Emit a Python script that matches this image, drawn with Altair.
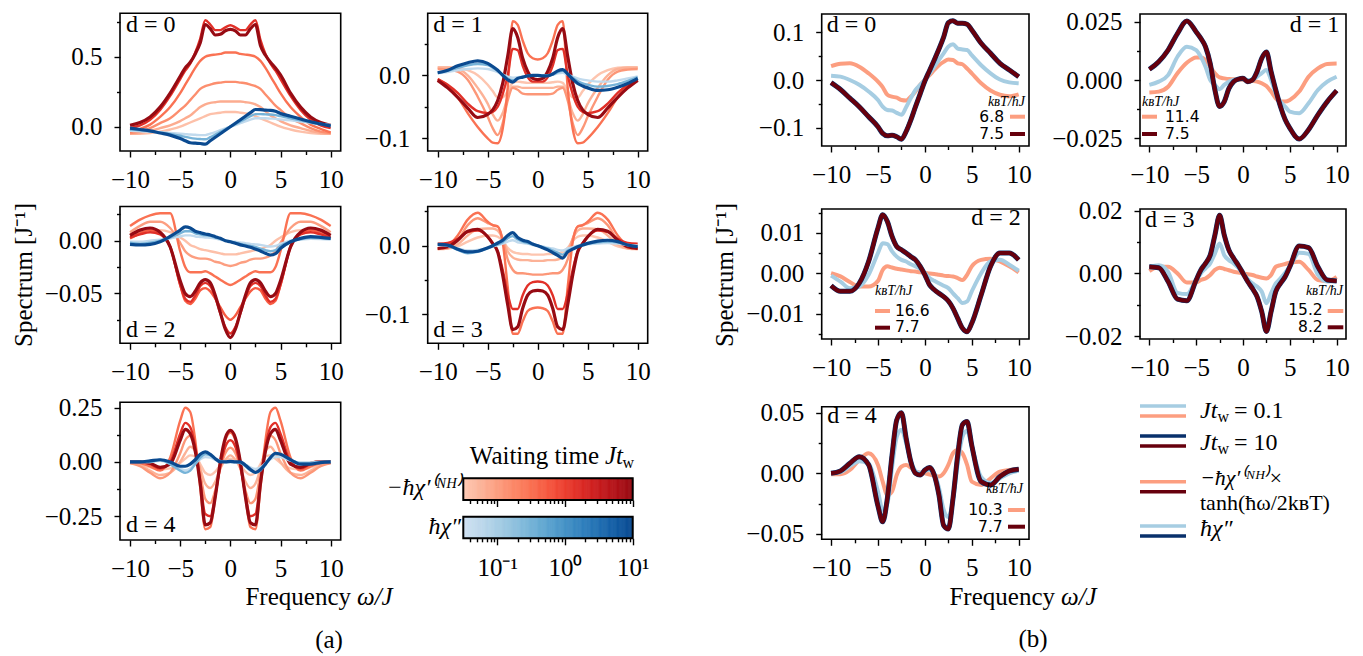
import numpy as np
import pandas as pd
import altair as alt

W, H = 1363, 656
FONT = "Liberation Serif"
SANS = "DejaVu Sans"
TFS = 25

# ---------------- data: frequency grid ----------------
X = [-10, -9, -8, -7, -6, -5, -4.5, -4, -3.5, -3, -2.5, -2, -1.5, -1, -0.5, 0,
     0.5, 1, 1.5, 2, 2.5, 3, 3.5, 4, 4.5, 5, 6, 7, 8, 9, 10]

# ---------------- panel (a): -hbar chi'(NH), by waiting time J t_w ----------------
A_RED = {
    0: {
        10: [0.01,0.03,0.07,0.14,0.24,0.36,0.42,0.46,0.52,0.60,0.73,0.70,0.655,0.66,0.685,0.695,0.685,0.655,0.655,0.70,0.73,0.58,0.51,0.46,0.42,0.37,0.24,0.14,0.07,0.03,0.01],
        1.5: [-0.01,0.01,0.05,0.12,0.22,0.34,0.40,0.45,0.53,0.63,0.76,0.73,0.69,0.69,0.71,0.725,0.71,0.69,0.69,0.73,0.76,0.62,0.52,0.45,0.40,0.34,0.22,0.12,0.05,0.01,-0.01],
        0.3: [-0.035,-0.015,0.015,0.07,0.14,0.24,0.30,0.36,0.42,0.47,0.50,0.51,0.515,0.52,0.53,0.53,0.53,0.52,0.515,0.51,0.50,0.47,0.42,0.36,0.30,0.24,0.14,0.07,0.015,-0.015,-0.04],
        0.15: [-0.045,-0.035,-0.01,0.025,0.06,0.12,0.15,0.19,0.23,0.27,0.29,0.30,0.31,0.315,0.32,0.32,0.32,0.315,0.31,0.30,0.29,0.27,0.23,0.19,0.15,0.12,0.06,0.025,-0.01,-0.035,-0.045],
        0.07: [-0.05,-0.045,-0.03,-0.01,0.01,0.04,0.06,0.08,0.11,0.14,0.16,0.17,0.175,0.18,0.18,0.18,0.18,0.18,0.175,0.17,0.16,0.14,0.11,0.08,0.06,0.04,0.01,-0.01,-0.03,-0.045,-0.05],
        0.04: [-0.05,-0.05,-0.045,-0.035,-0.02,0.0,0.015,0.03,0.045,0.06,0.075,0.09,0.095,0.10,0.105,0.105,0.105,0.10,0.095,0.09,0.075,0.06,0.045,0.03,0.015,0.0,-0.02,-0.035,-0.045,-0.05,-0.05],
    },
    1: {
        10: [-0.008,-0.02,-0.035,-0.052,-0.067,-0.062,-0.055,-0.04,-0.013,0.03,0.074,0.06,0.027,0.006,-0.005,-0.007,-0.005,0.006,0.027,0.06,0.074,0.03,-0.013,-0.04,-0.055,-0.062,-0.067,-0.052,-0.035,-0.02,-0.008],
        1.5: [-0.006,-0.015,-0.028,-0.045,-0.057,-0.06,-0.058,-0.05,-0.03,0.0,0.042,0.04,0.015,-0.003,-0.01,-0.01,-0.01,-0.003,0.015,0.04,0.042,0.0,-0.03,-0.05,-0.058,-0.06,-0.057,-0.045,-0.028,-0.015,-0.006],
        0.3: [-0.006,-0.016,-0.035,-0.06,-0.082,-0.1,-0.107,-0.108,-0.085,-0.02,0.086,0.08,0.055,0.035,0.027,0.025,0.027,0.035,0.055,0.08,0.086,-0.02,-0.085,-0.108,-0.107,-0.1,-0.082,-0.06,-0.035,-0.016,-0.006],
        0.12: [0.01,0.009,0.006,-0.007,-0.034,-0.066,-0.084,-0.095,-0.076,-0.04,-0.02,-0.023,-0.029,-0.03,-0.03,-0.03,-0.03,-0.03,-0.029,-0.023,-0.02,-0.04,-0.076,-0.095,-0.084,-0.066,-0.034,-0.007,0.006,0.009,0.01],
        0.06: [0.012,0.012,0.01,0.0,-0.02,-0.045,-0.062,-0.072,-0.06,-0.035,-0.018,-0.018,-0.02,-0.02,-0.02,-0.02,-0.02,-0.02,-0.02,-0.018,-0.018,-0.035,-0.06,-0.072,-0.062,-0.045,-0.02,0.0,0.01,0.012,0.012],
        0.035: [0.013,0.013,0.012,0.008,0.0,-0.015,-0.025,-0.035,-0.035,-0.025,-0.012,-0.01,-0.011,-0.012,-0.012,-0.012,-0.012,-0.012,-0.011,-0.01,-0.012,-0.025,-0.035,-0.035,-0.025,-0.015,0.0,0.008,0.012,0.013,0.013],
    },
    2: {
        10: [0.005,0.01,0.012,0.008,-0.006,-0.038,-0.05,-0.053,-0.048,-0.04,-0.037,-0.04,-0.052,-0.068,-0.084,-0.092,-0.084,-0.068,-0.052,-0.04,-0.037,-0.04,-0.048,-0.053,-0.05,-0.038,-0.006,0.008,0.012,0.01,0.005],
        1.5: [0.003,0.006,0.008,0.006,-0.006,-0.042,-0.055,-0.058,-0.052,-0.043,-0.04,-0.043,-0.054,-0.069,-0.082,-0.088,-0.082,-0.069,-0.054,-0.043,-0.04,-0.043,-0.052,-0.058,-0.055,-0.042,-0.006,0.006,0.008,0.006,0.003],
        0.5: [0.002,0.007,0.01,0.007,-0.005,-0.042,-0.057,-0.06,-0.055,-0.047,-0.045,-0.048,-0.055,-0.063,-0.071,-0.075,-0.071,-0.063,-0.055,-0.048,-0.045,-0.047,-0.055,-0.06,-0.057,-0.042,-0.005,0.007,0.01,0.007,0.002],
        0.3: [0.014,0.02,0.024,0.026,0.026,-0.01,-0.025,-0.03,-0.03,-0.03,-0.029,-0.031,-0.034,-0.037,-0.04,-0.042,-0.04,-0.037,-0.034,-0.031,-0.029,-0.03,-0.03,-0.03,-0.025,-0.01,0.026,0.026,0.024,0.02,0.014],
        0.1: [0.008,0.014,0.018,0.018,0.012,-0.002,-0.01,-0.014,-0.016,-0.017,-0.017,-0.018,-0.02,-0.021,-0.023,-0.024,-0.023,-0.021,-0.02,-0.018,-0.017,-0.017,-0.016,-0.014,-0.01,-0.002,0.012,0.018,0.018,0.014,0.008],
        0.04: [0.005,0.008,0.01,0.01,0.008,0.003,0.0,-0.004,-0.006,-0.008,-0.009,-0.01,-0.011,-0.012,-0.013,-0.013,-0.013,-0.012,-0.011,-0.01,-0.009,-0.008,-0.006,-0.004,0.0,0.003,0.008,0.01,0.01,0.008,0.005],
    },
    3: {
        10: [-0.004,-0.0015,0.008,0.021,0.024,0.013,0.003,-0.009,-0.043,-0.086,-0.122,-0.118,-0.091,-0.072,-0.066,-0.065,-0.066,-0.072,-0.091,-0.118,-0.122,-0.086,-0.043,-0.009,0.003,0.013,0.024,0.021,0.008,-0.0015,-0.004],
        1.5: [0.003,0.004,0.01,0.02,0.022,0.013,0.004,-0.008,-0.035,-0.07,-0.092,-0.092,-0.072,-0.058,-0.053,-0.052,-0.053,-0.058,-0.072,-0.092,-0.092,-0.07,-0.035,-0.008,0.004,0.013,0.022,0.02,0.01,0.004,0.003],
        0.3: [-0.004,0.0,0.015,0.038,0.048,0.035,0.03,0.028,0.005,-0.06,-0.128,-0.128,-0.11,-0.095,-0.091,-0.09,-0.091,-0.095,-0.11,-0.128,-0.128,-0.06,0.005,0.028,0.03,0.035,0.048,0.038,0.015,0.0,-0.004],
        0.12: [-0.005,-0.003,0.008,0.03,0.04,0.033,0.03,0.028,0.01,-0.02,-0.035,-0.04,-0.04,-0.041,-0.042,-0.042,-0.042,-0.041,-0.04,-0.04,-0.035,-0.02,0.01,0.028,0.03,0.033,0.04,0.03,0.008,-0.003,-0.005],
        0.06: [-0.005,-0.004,0.002,0.015,0.024,0.025,0.025,0.022,0.01,-0.008,-0.017,-0.02,-0.021,-0.021,-0.022,-0.022,-0.022,-0.021,-0.021,-0.02,-0.017,-0.008,0.01,0.022,0.025,0.025,0.024,0.015,0.002,-0.004,-0.005],
        0.035: [-0.004,-0.004,-0.001,0.006,0.012,0.015,0.015,0.013,0.007,-0.003,-0.009,-0.011,-0.012,-0.012,-0.013,-0.013,-0.013,-0.012,-0.012,-0.011,-0.009,-0.003,0.007,0.013,0.015,0.015,0.012,0.006,-0.001,-0.004,-0.004],
    },
    4: {
        10: [0.0,0.0,-0.006,-0.025,-0.01,0.1,0.15,0.13,0.05,-0.1,-0.29,-0.28,-0.16,0.0,0.11,0.145,0.11,0.0,-0.16,-0.28,-0.29,-0.1,0.05,0.13,0.15,0.1,-0.01,-0.025,-0.006,0.0,0.0],
        1.5: [0.0,0.0,-0.01,-0.03,0.0,0.13,0.18,0.16,0.07,-0.09,-0.24,-0.25,-0.15,-0.02,0.07,0.1,0.07,-0.02,-0.15,-0.25,-0.24,-0.09,0.07,0.16,0.18,0.13,0.0,-0.03,-0.01,0.0,0.0],
        0.3: [0.0,-0.005,-0.02,-0.04,0.02,0.19,0.25,0.23,0.1,-0.12,-0.31,-0.3,-0.16,0.0,0.1,0.135,0.1,0.0,-0.16,-0.3,-0.31,-0.12,0.1,0.23,0.25,0.19,0.02,-0.04,-0.02,-0.005,0.0],
        0.12: [-0.005,-0.02,-0.05,-0.075,-0.05,0.04,0.1,0.12,0.07,-0.05,-0.17,-0.19,-0.13,-0.03,0.04,0.065,0.04,-0.03,-0.13,-0.19,-0.17,-0.05,0.07,0.12,0.1,0.04,-0.05,-0.075,-0.05,-0.02,-0.005],
        0.06: [-0.005,-0.015,-0.04,-0.06,-0.05,0.0,0.04,0.07,0.05,-0.03,-0.1,-0.12,-0.09,-0.03,0.01,0.03,0.01,-0.03,-0.09,-0.12,-0.1,-0.03,0.05,0.07,0.04,0.0,-0.05,-0.06,-0.04,-0.015,-0.005],
        0.035: [-0.003,-0.01,-0.025,-0.035,-0.03,-0.005,0.015,0.03,0.025,-0.01,-0.05,-0.06,-0.045,-0.015,0.005,0.015,0.005,-0.015,-0.045,-0.06,-0.05,-0.01,0.025,0.03,0.015,-0.005,-0.03,-0.035,-0.025,-0.01,-0.003],
    },
}

# ---------------- panel (a): hbar chi'', by waiting time J t_w ----------------
A_BLUE = {
    0: {
        10: [-0.01,-0.02,-0.03,-0.045,-0.06,-0.085,-0.10,-0.115,-0.118,-0.12,-0.125,-0.10,-0.075,-0.05,-0.025,0.0,0.025,0.05,0.075,0.10,0.123,0.122,0.118,0.117,0.11,0.095,0.075,0.055,0.035,0.02,0.005],
        0.3: [-0.02,-0.025,-0.033,-0.042,-0.052,-0.065,-0.073,-0.08,-0.085,-0.088,-0.09,-0.075,-0.056,-0.037,-0.018,0.0,0.018,0.037,0.056,0.075,0.09,0.09,0.088,0.087,0.083,0.075,0.06,0.045,0.03,0.018,0.008],
        0.05: [-0.03,-0.032,-0.036,-0.04,-0.045,-0.05,-0.053,-0.056,-0.058,-0.06,-0.06,-0.05,-0.038,-0.025,-0.012,0.0,0.012,0.025,0.038,0.05,0.06,0.06,0.06,0.058,0.056,0.052,0.045,0.037,0.028,0.02,0.012],
    },
    1: {
        10: [0.004,0.008,0.015,0.02,0.023,0.019,0.014,0.008,0.0,-0.007,-0.011,-0.005,-0.003,-0.001,0.0,0.0,-0.001,-0.001,0.002,0.007,0.009,0.002,-0.006,-0.013,-0.017,-0.02,-0.024,-0.023,-0.019,-0.013,-0.005],
        0.3: [0.004,0.007,0.012,0.016,0.018,0.016,0.012,0.007,0.001,-0.005,-0.008,-0.005,-0.003,-0.001,0.0,0.0,-0.001,-0.001,0.001,0.005,0.007,0.002,-0.004,-0.009,-0.013,-0.015,-0.018,-0.017,-0.014,-0.009,-0.003],
        0.05: [0.003,0.005,0.008,0.01,0.011,0.01,0.008,0.005,0.001,-0.002,-0.004,-0.003,-0.002,-0.001,0.0,0.0,0.0,0.0,0.001,0.003,0.004,0.001,-0.002,-0.005,-0.007,-0.008,-0.01,-0.01,-0.008,-0.005,-0.002],
    },
    2: {
        10: [-0.0035,-0.004,-0.0035,-0.001,0.004,0.01,0.013,0.012,0.009,0.0076,0.0063,0.0054,0.0038,0.0022,0.0,-0.001,-0.0025,-0.004,-0.005,-0.0063,-0.008,-0.0098,-0.012,-0.0136,-0.0123,-0.0073,-0.001,0.0022,0.0038,0.0032,0.0022],
        0.3: [-0.002,-0.003,-0.002,0.0,0.003,0.007,0.009,0.009,0.007,0.006,0.005,0.0045,0.003,0.0017,0.0,-0.001,-0.002,-0.003,-0.004,-0.005,-0.006,-0.0075,-0.009,-0.01,-0.009,-0.005,-0.001,0.0015,0.0028,0.0025,0.0017],
        0.05: [-0.001,-0.001,0.0,0.001,0.002,0.004,0.005,0.005,0.004,0.0035,0.003,0.0027,0.002,0.001,0.0,-0.0005,-0.001,-0.0017,-0.0023,-0.003,-0.0035,-0.004,-0.005,-0.0055,-0.005,-0.003,0.0,0.001,0.0018,0.0016,0.001],
    },
    3: {
        10: [0.002,0.001,-0.005,-0.009,-0.008,-0.003,0.0,0.004,0.008,0.015,0.019,0.012,0.008,0.006,0.0025,0.0,-0.003,-0.006,-0.01,-0.014,-0.018,-0.009,-0.005,-0.0015,0.001,0.0034,0.0068,0.008,0.006,0.001,-0.0015],
        0.3: [0.002,0.0,-0.006,-0.011,-0.009,-0.004,-0.001,0.002,0.005,0.011,0.014,0.009,0.006,0.004,0.002,0.0,-0.002,-0.004,-0.007,-0.01,-0.013,-0.007,-0.004,-0.001,0.001,0.003,0.005,0.006,0.005,0.001,-0.001],
        0.05: [0.001,0.0,-0.004,-0.007,-0.006,-0.003,-0.001,0.001,0.003,0.006,0.008,0.005,0.004,0.003,0.001,0.0,-0.001,-0.003,-0.004,-0.006,-0.007,-0.004,-0.002,0.0,0.001,0.002,0.003,0.004,0.003,0.001,0.0],
    },
    4: {
        10: [0.0,0.0,0.005,0.01,0.0,-0.02,-0.02,-0.01,0.01,0.035,0.046,0.035,0.015,0.0,0.0,0.003,0.0,0.0,-0.015,-0.035,-0.048,-0.035,-0.01,0.02,0.04,0.035,0.01,-0.01,-0.01,-0.003,0.0],
        0.3: [0.0,0.0,0.0,0.01,-0.01,-0.04,-0.05,-0.04,-0.01,0.02,0.035,0.03,0.015,0.005,0.0,0.0,0.0,-0.005,-0.02,-0.04,-0.05,-0.04,-0.01,0.02,0.035,0.035,0.01,-0.005,-0.005,0.0,0.0],
        0.05: [0.0,0.0,0.0,0.005,-0.008,-0.03,-0.038,-0.03,-0.008,0.012,0.022,0.02,0.01,0.003,0.0,0.0,0.0,-0.003,-0.012,-0.025,-0.032,-0.025,-0.006,0.012,0.022,0.022,0.006,-0.003,-0.003,0.0,0.0],
    },
}

# ---------------- panel (b): Jt_w = 0.1 / 10 comparisons ----------------
B_SER = {
    0: {
        "salmon": [0.029,0.034,0.035,0.028,0.014,-0.0035,-0.015,-0.031,-0.035,-0.037,-0.042,-0.043,-0.035,-0.024,-0.01,0.0,0.01,0.021,0.031,0.038,0.043,0.042,0.035,0.033,0.024,0.014,-0.007,-0.022,-0.031,-0.034,-0.03],
        "lightblue": [0.009,0.007,0.0,-0.01,-0.024,-0.042,-0.056,-0.063,-0.064,-0.069,-0.073,-0.057,-0.038,-0.021,-0.01,0.0,0.014,0.028,0.042,0.056,0.07,0.075,0.066,0.064,0.063,0.052,0.031,0.014,0.001,-0.005,-0.007],
        "darkred": [-0.0056,-0.02,-0.038,-0.056,-0.077,-0.098,-0.112,-0.117,-0.116,-0.119,-0.124,-0.108,-0.084,-0.056,-0.029,-0.002,0.02,0.042,0.065,0.09,0.12,0.124,0.119,0.119,0.117,0.105,0.077,0.056,0.035,0.021,0.007],
    },
    1: {
        "salmon": [-0.0054,-0.005,-0.0029,0.0029,0.0074,0.0097,0.0097,0.0086,0.0057,0.0029,0.0011,0.0007,0.0004,0.0003,0.0002,0.0,-0.0002,-0.0004,-0.0007,-0.0014,-0.0026,-0.005,-0.0079,-0.0093,-0.0093,-0.0086,-0.005,0.0014,0.005,0.0069,0.0071],
        "lightblue": [-0.0021,-0.0007,0.0021,0.01,0.0143,0.0129,0.01,0.0057,0.0,-0.0021,-0.004,-0.0021,-0.0007,0.0,0.0002,0.0003,0.0,0.0003,0.0014,0.003,0.0043,0.0,-0.0057,-0.0093,-0.0114,-0.0136,-0.0143,-0.01,-0.0043,-0.0007,0.0014],
        "darkred": [0.0046,0.0079,0.0129,0.02,0.0254,0.0207,0.0179,0.0143,0.0071,-0.0043,-0.0114,-0.0093,-0.0036,-0.0007,0.0004,0.0007,-0.0007,0.0,0.0036,0.0093,0.012,0.0036,-0.0043,-0.0114,-0.017,-0.0207,-0.0254,-0.0214,-0.015,-0.0093,-0.0046],
    },
    2: {
        "salmon": [0.0,-0.0008,-0.0022,-0.0033,-0.0033,-0.0019,0.0008,0.0017,0.0014,0.0011,0.0009,0.0007,0.0005,0.0004,0.0002,0.0001,-0.0001,-0.0002,-0.0004,-0.0006,-0.0007,-0.0008,-0.0012,-0.0017,-0.0004,0.0017,0.0033,0.0036,0.0029,0.0017,0.0002],
        "lightblue": [-0.0006,-0.0021,-0.0037,-0.0033,-0.0004,0.005,0.0074,0.0072,0.0054,0.0041,0.0033,0.0029,0.0022,0.0017,0.0011,0.0,-0.0012,-0.0019,-0.0025,-0.0031,-0.0037,-0.005,-0.0062,-0.0074,-0.007,-0.0045,0.0,0.0029,0.0033,0.0021,0.0006],
        "darkred": [-0.0031,-0.0045,-0.0045,-0.0025,0.0029,0.0112,0.0145,0.0128,0.0091,0.0066,0.0058,0.005,0.0041,0.0033,0.0017,-0.0004,-0.0029,-0.0041,-0.005,-0.0058,-0.0069,-0.0087,-0.0112,-0.0136,-0.0145,-0.0124,-0.0054,0.0017,0.005,0.005,0.0033],
    },
    3: {
        "salmon": [0.0007,0.0021,0.0021,0.0,-0.0029,-0.0029,-0.0021,-0.0016,-0.0005,0.0011,0.0018,0.0014,0.001,0.0005,0.0003,0.0,-0.0003,-0.0005,-0.001,-0.0014,-0.0016,-0.0005,0.0021,0.0026,0.003,0.0034,0.0037,0.0011,-0.0021,-0.0024,-0.0011],
        "lightblue": [0.0021,0.0026,0.0005,-0.0062,-0.0066,-0.0021,0.0,0.0016,0.0032,0.0063,0.0095,0.0058,0.0042,0.0032,0.0018,0.0,-0.0018,-0.0032,-0.0042,-0.0058,-0.0095,-0.0063,-0.0032,-0.0016,0.0002,0.0021,0.0066,0.0062,-0.0005,-0.0026,-0.0021],
        "darkred": [0.0021,0.0018,-0.0026,-0.0082,-0.0087,-0.0021,0.0011,0.0032,0.0058,0.0122,0.0185,0.0122,0.0074,0.0048,0.0026,0.0,-0.0026,-0.0048,-0.0074,-0.0122,-0.0185,-0.0122,-0.0058,-0.0032,-0.0011,0.0021,0.0087,0.0082,0.0021,-0.0021,-0.0024],
    },
    4: {
        "salmon": [-0.0008,-0.0008,0.0027,0.011,0.0165,0.0069,-0.0069,-0.018,-0.015,-0.0014,0.0055,0.0069,0.0047,0.0014,0.0007,0.0,-0.001,-0.0019,-0.0027,0.0,0.0069,0.0165,0.0192,0.0165,0.0069,-0.0069,-0.0096,-0.0041,0.0014,0.0027,0.0033],
        "lightblue": [0.0,0.001,0.006,0.01,0.008,-0.015,-0.03,-0.025,0.005,0.03,0.036,0.025,0.01,0.002,0.0,0.002,0.003,0.0,-0.012,-0.03,-0.036,-0.022,0.008,0.03,0.035,0.022,-0.003,-0.008,-0.004,0.0,0.002],
        "darkred": [0.0,0.0019,0.0082,0.0137,0.007,-0.027,-0.04,-0.0206,0.015,0.044,0.05,0.029,0.0096,0.0,-0.0014,0.0027,0.0047,-0.0014,-0.018,-0.043,-0.046,-0.0206,0.015,0.04,0.0426,0.023,-0.0069,-0.0096,-0.0027,0.0019,0.0033],
    },
}
B_TEMPS = {0: ("6.8", "7.5"), 1: ("11.4", "7.5"), 2: ("16.6", "7.7"), 3: ("15.2", "8.2"), 4: ("10.3", "7.7")}

for dd in (A_RED, A_BLUE):
    for d, curves in dd.items():
        for k, v in curves.items():
            assert len(v) == len(X), (d, k, len(v))
for d, curves in B_SER.items():
    for k, v in curves.items():
        assert len(v) == len(X), ("b", d, k, len(v))

# ---------------- helpers ----------------
ONE = pd.DataFrame({"k": [0]})
TW_DOM = [10 ** -1.5, 10]
B_ORDER = ["salmon", "lightblue", "navy", "darkred"]
B_COLORS = ["#fc9e80", "#a6cde2", "#08306b", "#67000d"]
C = dict(zip(B_ORDER, B_COLORS))


def tw_scale(scheme):
    return alt.Scale(type="log", domain=TW_DOM, scheme=scheme)


AX = dict(domain=False, grid=False, tickColor="black", tickWidth=1.4, labelFont=FONT,
          labelFontSize=TFS, labelColor="black", labelFlush=False, labelOverlap=False, title="")

MAJ, MIN = 6, 3.5


def x_axis(ybottom, vals, size, labels, fmt=".0f", pad=10, expr=None):
    kw = dict(AX)
    if expr:
        kw["labelExpr"] = expr
    return alt.Axis(orient="bottom", offset=ybottom - H, values=vals, format=fmt, labels=labels,
                    labelPadding=pad, tickSize=size, **kw)


def y_axis(xleft, vals, size, labels, fmt=".1f", pad=12):
    return alt.Axis(orient="left", offset=-xleft, values=vals, format=fmt, labels=labels,
                    labelPadding=pad, tickSize=size, **AX)


XMAJ = [-10, -5, 0, 5, 10]
XMIN = [-7.5, -2.5, 2.5, 7.5]


def long_df(curves, key):
    rows = []
    for k in curves:
        for x, y in zip(X, curves[k]):
            rows.append({"x": x, "y": y, key: k})
    return pd.DataFrame(rows)


def sc(xdom, xr, ydom, yr):
    return (alt.Scale(domain=xdom, range=xr, nice=False, zero=False),
            alt.Scale(domain=ydom, range=yr, nice=False, zero=False))


def frame_minor(xdom, xr, ydom, yr, ymin):
    xs, ys = sc(xdom, xr, ydom, yr)
    return alt.Chart(ONE).mark_rect(filled=False, stroke="black", strokeWidth=1.6).encode(
        x=alt.XDatum(xdom[0], scale=xs, axis=x_axis(yr[0], XMIN, MIN, False)),
        x2=alt.X2Datum(xdom[1]),
        y=alt.YDatum(ydom[0], scale=ys, axis=y_axis(xr[0], ymin, MIN, False)),
        y2=alt.Y2Datum(ydom[1]))


def panel_a(d, xr, yr, ydom, ymaj, ymin, yfmt):
    xdom = [-11, 11]
    reds = {k: A_RED[d][k] for k in sorted(A_RED[d])}
    blues = {k: A_BLUE[d][k] for k in sorted(A_BLUE[d])}
    width = alt.condition("datum.tw >= 10", alt.value(3.2), alt.value(2.4))
    xs, ys = sc(xdom, xr, ydom, yr)
    red = alt.Chart(long_df(reds, "tw")).mark_line(interpolate="monotone").encode(
        x=alt.X("x:Q", scale=xs, axis=x_axis(yr[0], XMAJ, MAJ, True)),
        y=alt.Y("y:Q", scale=ys, axis=y_axis(xr[0], ymaj, MAJ, True, yfmt)),
        color=alt.Color("tw:Q", scale=tw_scale("reds"), legend=None),
        detail="tw:N", strokeWidth=width)
    xs2, ys2 = sc(xdom, xr, ydom, yr)
    blue = alt.Chart(long_df(blues, "tw")).mark_line(interpolate="monotone").encode(
        x=alt.X("x:Q", scale=xs2, axis=None),
        y=alt.Y("y:Q", scale=ys2, axis=None),
        color=alt.Color("tw:Q", scale=tw_scale("blues"), legend=None),
        detail="tw:N", strokeWidth=width)
    return [red, blue, frame_minor(xdom, xr, ydom, yr, ymin)]


def panel_b(d, xr, xdom, yr, ydom, ymaj, ymin, yfmt):
    xs, ys = sc(xdom, xr, ydom, yr)
    ser = B_SER[d]
    curves = {"salmon": ser["salmon"], "lightblue": ser["lightblue"],
              "navy": ser["darkred"], "darkred": ser["darkred"]}
    lines = alt.Chart(long_df(curves, "s")).mark_line(interpolate="monotone").encode(
        x=alt.X("x:Q", scale=xs, axis=x_axis(yr[0], XMAJ, MAJ, True)),
        y=alt.Y("y:Q", scale=ys, axis=y_axis(xr[0], ymaj, MAJ, True, yfmt)),
        color=alt.Color("s:N", scale=alt.Scale(domain=B_ORDER, range=B_COLORS), legend=None),
        detail="s:N",
        strokeWidth=alt.condition("datum.s == 'navy'", alt.value(5), alt.value(4)))
    return [lines, frame_minor(xdom, xr, ydom, yr, ymin)]


def txt(s, x, y, size=24, align="left", style="normal", font=FONT, angle=0, baseline="alphabetic"):
    return alt.Chart(ONE).mark_text(text=s, font=font, fontSize=size, align=align, fontStyle=style,
                                    angle=angle, baseline=baseline, color="black").encode(
        x=alt.value(x), y=alt.value(y))


def hline(x0, x1, y, color, w=3.5):
    return alt.Chart(ONE).mark_rule(color=color, strokeWidth=w).encode(
        x=alt.value(x0), x2=alt.value(x1), y=alt.value(y))


layers = []

# ---- (a) panels ----
AC1, AC2 = [120, 340.7], [427.7, 647.7]
R1, R2, R3 = [151, 13.3], [343.3, 206.5], [540, 402.3]
layers += panel_a(0, AC1, R1, [-0.1736, 0.81], [0, 0.5], [0.25, 0.75], ".1f")
layers += panel_a(1, AC2, R1, [-0.1202, 0.0984], [-0.1, 0], [-0.05, 0.05], ".1f")
layers += panel_a(2, AC1, R2, [-0.0973, 0.0324], [-0.05, 0], [-0.075, -0.025, 0.025], ".2f")
layers += panel_a(3, AC2, R2, [-0.142, 0.0571], [-0.1, 0], [-0.05, 0.05], ".1f")
layers += panel_a(4, AC1, R3, [-0.3598, 0.2748], [-0.25, 0, 0.25], [-0.125, 0.125], ".2f")

# ---- (a) colour bars ----
CB_X = [463.3, 632.7]
CB_MAJ = [0.1, 1, 10]
CB_MIN = [0.04, 0.05, 0.06, 0.07, 0.08, 0.09, 0.2, 0.3, 0.4, 0.5, 0.6, 0.7, 0.8, 0.9,
          2, 3, 4, 5, 6, 7, 8, 9]
_edges = np.logspace(-1.5, 1, 151)
CB = pd.DataFrame({"lo": _edges[:-1], "hi": _edges[1:], "mid": np.sqrt(_edges[:-1] * _edges[1:])})
CB_EXPR = "datum.value == 0.1 ? '10⁻¹' : datum.value == 1 ? '10⁰' : datum.value == 10 ? '10¹' : ''"


def colorbar(scheme, ytop, ybot, labels):
    def scales():
        return (alt.Scale(type="log", domain=TW_DOM, range=CB_X, nice=False),
                alt.Scale(domain=[0, 1], range=[ybot, ytop], nice=False, zero=False))
    xs, ys = scales()
    bar = alt.Chart(CB).mark_rect(strokeWidth=0.7).encode(
        x=alt.X("lo:Q", scale=xs, axis=x_axis(ybot, CB_MAJ, 6.5, labels, pad=11,
                                              expr=CB_EXPR if labels else None)),
        x2="hi:Q",
        y=alt.YDatum(0, scale=ys, axis=None), y2=alt.Y2Datum(1),
        color=alt.Color("mid:Q", scale=tw_scale(scheme), legend=None),
        stroke=alt.Stroke("mid:Q", scale=tw_scale(scheme), legend=None))
    xs2, ys2 = scales()
    fr = alt.Chart(ONE).mark_rect(filled=False, stroke="black", strokeWidth=2).encode(
        x=alt.XDatum(TW_DOM[0], scale=xs2, axis=x_axis(ybot, CB_MIN, 3.5, False)),
        x2=alt.X2Datum(TW_DOM[1]),
        y=alt.YDatum(0, scale=ys2, axis=None), y2=alt.Y2Datum(1))
    return [bar, fr]


layers += colorbar("reds", 478.3, 500, False)
layers += colorbar("blues", 516.7, 538.3, True)

# ---- (b) panels ----
BC1, BC2 = [821.7, 1029], [1140, 1346]
BX1, BX2 = [-11, 11.1], [-11, 11]
BR1, BR2, BR3 = [146, 14], [339, 209], [539.3, 406.7]
layers += panel_b(0, BC1, BX1, BR1, [-0.1384, 0.1384], [-0.1, 0, 0.1], [-0.05, 0.05], ".1f")
layers += panel_b(1, BC2, BX2, BR1, [-0.0284, 0.0284], [-0.025, 0, 0.025], [-0.0125, 0.0125], ".3f")
layers += panel_b(2, BC1, BX1, BR2, [-0.0163, 0.0159], [-0.01, 0, 0.01], [-0.015, -0.005, 0.005, 0.015], ".2f")
layers += panel_b(3, BC2, BX2, BR2, [-0.0209, 0.0205], [-0.02, 0, 0.02], [-0.01, 0.01], ".2f")
layers += panel_b(4, BC1, BX1, BR3, [-0.0544, 0.0549], [-0.05, 0, 0.05], [-0.025, 0.025], ".2f")

# ---- panel labels ----
for s, x, y, al in [("d = 0", 126, 32.3, "left"), ("d = 1", 433.3, 32.3, "left"),
                    ("d = 2", 126, 336.7, "left"), ("d = 3", 433.3, 336.7, "left"),
                    ("d = 4", 126, 531.7, "left"),
                    ("d = 0", 826.7, 32.3, "left"), ("d = 1", 1339.3, 32.3, "right"),
                    ("d = 2", 1020.7, 225, "right"), ("d = 3", 1145, 226.7, "left"),
                    ("d = 4", 827.3, 423.3, "left")]:
    layers.append(txt(s, x, y, size=24, align=al))

# ---- (b) small legends (k_B T / hbar J) ----
MINI = {
    0: dict(hx=1025, hy=106, ha="right", tx=1004, ta="right", ty=(121.7, 139.3), lx=(1010, 1025), ly=(116.7, 134)),
    1: dict(hx=1142, hy=106, ha="left", tx=1165, ta="left", ty=(121.7, 139.3), lx=(1142, 1157), ly=(116.7, 134)),
    2: dict(hx=875, hy=295, ha="left", tx=895, ta="left", ty=(315.5, 332), lx=(875, 890), ly=(311, 327.7)),
    3: dict(hx=1343, hy=295, ha="right", tx=1322.7, ta="right", ty=(315, 331.7), lx=(1327.7, 1343.3), ly=(311, 327.3)),
    4: dict(hx=1023, hy=493, ha="right", tx=1002.7, ta="right", ty=(515, 531.7), lx=(1008, 1025), ly=(510, 526.7)),
}
for d, m in MINI.items():
    layers.append(txt("kʙT/ħJ", m["hx"], m["hy"], size=14, align=m["ha"], style="italic"))
    for i, col in enumerate(["salmon", "darkred"]):
        layers.append(txt(B_TEMPS[d][i], m["tx"], m["ty"][i], size=15.5, align=m["ta"], font=SANS))
        layers.append(hline(m["lx"][0], m["lx"][1], m["ly"][i], C[col], 4))

# ---- (b) main legend ----
LX0, LX1 = 1140, 1186
for y, col in [(406, "lightblue"), (416, "salmon"), (436, "navy"), (446, "darkred"),
               (481.7, "salmon"), (491.7, "darkred"), (526, "lightblue"), (536, "navy")]:
    layers.append(hline(LX0, LX1, y, C[col], 3.5))
for base, val in [(418, "= 0.1"), (449.5, "= 10")]:
    layers.append(txt("Jt", 1200, base, size=24, style="italic"))
    layers.append(txt("w", 1217.5, base + 4, size=16))
    layers.append(txt(val, 1234, base, size=24))
layers.append(txt("−ħχ′⁽ᴺᴴ⁾×", 1200, 485, size=22, style="italic"))
layers.append(txt("tanh(ħω/2kʙT)", 1200, 510, size=22))
layers.append(txt("ħχ″", 1200, 536, size=24, style="italic"))

# ---- colour bar titles ----
layers.append(txt("Waiting time", 599, 464, size=25, align="right"))
layers.append(txt("Jt", 605, 464, size=25, style="italic"))
layers.append(txt("w", 622.5, 468, size=16))
layers.append(txt("−ħχ′⁽ᴺᴴ⁾", 460, 495, size=24, align="right", style="italic"))
layers.append(txt("ħχ″", 461, 534, size=24, align="right", style="italic"))

# ---- axis titles ----
for xc in (24, 724.7):
    layers.append(txt("Spectrum [J⁻¹]", xc, 275, size=25, align="center", angle=270, baseline="middle"))
layers.append(txt("Frequency", 351, 605, size=25, align="right"))
layers.append(txt("ω/J", 357, 605, size=25, style="italic"))
layers.append(txt("Frequency", 1055, 605, size=25, align="right"))
layers.append(txt("ω/J", 1061, 605, size=25, style="italic"))
layers.append(txt("(a)", 329, 648, size=25, align="center"))
layers.append(txt("(b)", 1033, 647, size=25, align="center"))

chart = alt.layer(*layers).resolve_scale(
    x="independent", y="independent", color="independent", stroke="independent"
).properties(
    width=W, height=H, autosize=alt.AutoSizeParams(type="none"), padding=0
).configure_view(stroke="transparent")

chart.save("out.html", embed_options={"renderer": "svg", "actions": False})
